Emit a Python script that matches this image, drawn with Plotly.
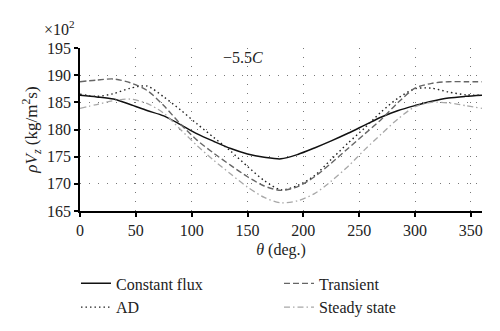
import plotly.graph_objects as go

theta = [0, 15, 30, 45, 60, 75, 90, 105, 120, 135, 150, 165, 180,
         195, 210, 225, 240, 255, 270, 285, 300, 315, 330, 345, 360]

constant_flux = [186.3, 186.0, 185.6, 184.6, 183.5, 182.5, 180.9, 179.2, 177.8, 176.5, 175.5, 174.9, 174.6,
                 175.4, 176.6, 177.9, 179.3, 180.8, 182.3, 183.5, 184.4, 185.2, 185.8, 186.1, 186.3]
transient = [188.8, 189.1, 189.3, 188.6, 187.2, 184.4, 181.0, 178.0, 175.6, 173.4, 171.3, 169.6, 168.8,
             169.5, 171.3, 173.8, 176.5, 179.2, 181.9, 185.0, 187.6, 188.5, 188.8, 188.8, 188.8]
ad = [186.5, 186.1, 186.6, 187.6, 188.0, 186.0, 183.6, 181.0, 178.5, 176.0, 173.2, 170.6, 168.9,
      169.7, 171.5, 174.5, 177.5, 180.3, 183.3, 185.8, 187.5, 187.6, 186.9, 186.4, 186.3]
steady_state = [183.9, 184.6, 185.3, 185.6, 184.8, 183.0, 180.0, 177.0, 174.3, 171.8, 169.4, 167.5, 166.5,
                166.9, 168.2, 170.5, 173.2, 176.3, 179.2, 182.0, 184.2, 185.0, 184.9, 184.4, 183.9]

x_ticks = [0, 50, 100, 150, 200, 250, 300, 350]
y_ticks = [165, 170, 175, 180, 185, 190, 195]

FONT = "Liberation Serif"
TXT = "#222222"

fig = go.Figure()
series = [
    ("Constant flux", constant_flux, "#111111", "solid", 1.5, "legend"),
    ("AD", ad, "#222222", "1.5px,3px", 1.4, "legend"),
    ("Transient", transient, "#666666", "6px,3px", 1.4, "legend2"),
    ("Steady state", steady_state, "#a8a8a8", "6px,3px,1.5px,3px", 1.3, "legend2"),
]
for name, ys, col, dash, w, lg in series:
    fig.add_trace(go.Scatter(x=theta, y=ys, mode="lines", name=name, legend=lg,
                             line=dict(color=col, dash=dash, width=w, shape="spline", smoothing=0.8)))

axis_common = dict(showline=True, linecolor="black", linewidth=1.5, ticks="outside",
                   ticklen=4, tickcolor="black", tickwidth=1.5,
                   showgrid=True, gridcolor="#777777", gridwidth=1, griddash="1px,8px",
                   zeroline=False, mirror=False, automargin=False,
                   tickfont=dict(family=FONT, size=16, color=TXT))
fig.update_xaxes(range=[0, 360], tickvals=x_ticks, **axis_common,
                 title=dict(text="<i>θ</i> (deg.)", font=dict(family=FONT, size=16, color=TXT), standoff=6))
fig.update_yaxes(range=[165, 195], tickvals=y_ticks, **axis_common,
                 title=dict(text="<i>ρV<sub>z</sub></i> (kg/m<sup>2</sup>s)", font=dict(family=FONT, size=17, color=TXT), standoff=5))

fig.add_annotation(text="×10<sup>2</sup>", xref="paper", yref="paper", x=-0.05, y=1.05,
                   xanchor="center", yanchor="bottom", showarrow=False,
                   font=dict(family=FONT, size=16, color=TXT))
fig.add_annotation(text="−5.5<i>C</i>", xref="x", yref="y", x=146, y=193.2,
                   xanchor="center", yanchor="middle", showarrow=False,
                   font=dict(family=FONT, size=16, color=TXT))

legend_common = dict(orientation="v", xref="paper", yref="container", y=0.195,
                     xanchor="left", yanchor="top", tracegroupgap=0, traceorder="normal",
                     font=dict(family=FONT, size=16, color=TXT), bgcolor="rgba(0,0,0,0)")

fig.update_layout(
    width=500, height=331,
    margin=dict(l=80, r=18, t=48, b=120, autoexpand=False),
    paper_bgcolor="white", plot_bgcolor="white",
    font=dict(family=FONT, size=16, color=TXT),
    legend=dict(x=-0.01, **legend_common),
    legend2=dict(x=0.495, **legend_common),
)

fig.write_html("out.html")
